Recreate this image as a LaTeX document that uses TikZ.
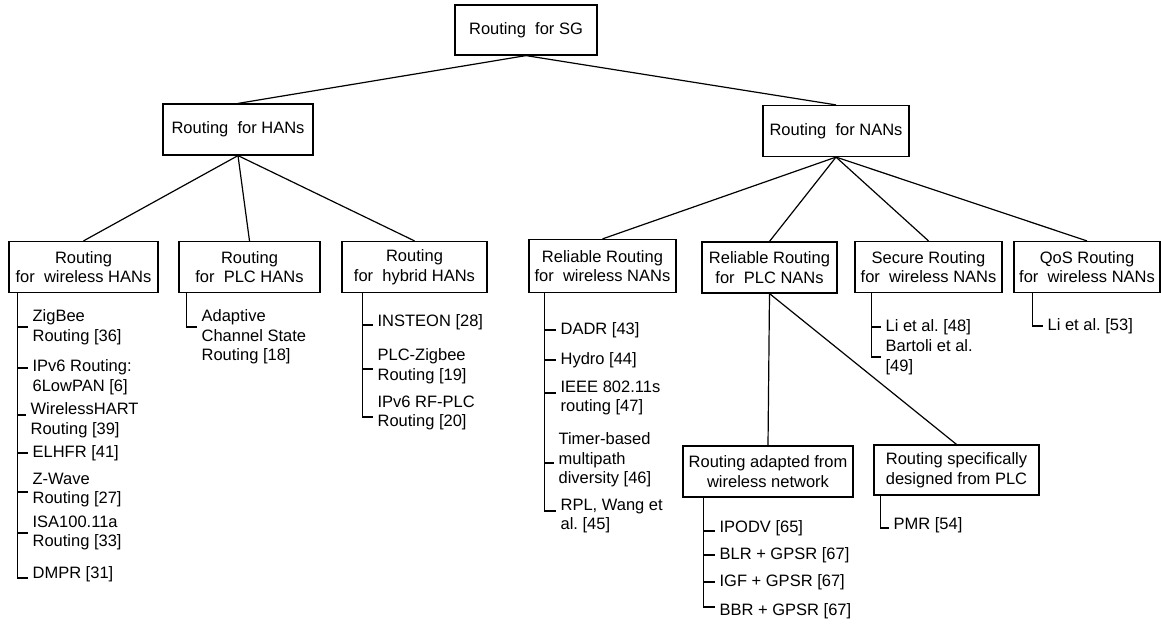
\documentclass[tikz,border=0pt]{standalone}
\usepackage{fontspec}
\setmainfont{Liberation Sans}
\usepackage{tikz}
\usetikzlibrary{positioning}

\newcommand{\treefont}{\fontsize{16.5}{19.5}\selectfont\frenchspacing}

\begin{document}
\begin{tikzpicture}[x=1pt, y=-1pt, line width=1.2pt,
    box/.style={draw, align=center, inner sep=0pt, minimum height=51pt, font=\treefont},
    leaf/.style={anchor=west, align=left, inner xsep=4pt, inner ysep=0pt, font=\treefont}]
    \useasboundingbox (0,0) rectangle (1161,624);

    % Root and first level
    \node[box, minimum width=142pt, minimum height=50pt] (sg) at (526,30) {Routing~ for SG};
    \node[box, minimum width=150pt] (hans) at (238,129.5) {Routing~ for HANs};
    \node[box, minimum width=146pt] (nans) at (836,131) {Routing~ for NANs};

    % Second level
    \node[box, minimum width=149pt] (whan) at (83.5,267) {Routing\\for~ wireless HANs};
    \node[box, minimum width=141pt] (phan) at (249.5,267) {Routing\\for~ PLC HANs};
    \node[box, minimum width=145pt] (hhan) at (414.5,267) {Routing\\for~ hybrid HANs};
    \node[box, minimum width=147pt, minimum height=53pt] (wnan) at (602.5,266) {Reliable Routing\\for~ wireless NANs};
    \node[box, minimum width=135pt] (pnan) at (769.5,267.5) {Reliable Routing\\for~ PLC NANs};
    \node[box, minimum width=147pt] (snan) at (928.5,267) {Secure Routing\\for~ wireless NANs};
    \node[box, minimum width=146pt] (qnan) at (1087,267) {QoS Routing\\for~ wireless NANs};

    % Third level under PLC NANs
    \node[box, minimum width=170pt] (adap) at (768,471.5) {Routing adapted from\\wireless network};
    \node[box, minimum width=165pt, minimum height=50pt] (spec) at (956.5,470) {Routing specifically\\designed from PLC};

    % Tree connectors
    \draw (sg.south) -- (hans.north);
    \draw (sg.south) -- (nans.north);
    \foreach \c in {whan,phan,hhan} \draw (hans.south) -- (\c.north);
    \foreach \c in {wnan,pnan,snan,qnan} \draw (nans.south) -- (\c.north);
    \draw (pnan.south) -- (adap.north);
    \draw (pnan.south) -- (spec.north);

    % Wireless HANs
    \node[leaf] (z1) at (28,327) {ZigBee\\Routing [36]};
    \node[leaf] (z2) at (28,377) {IPv6 Routing:\\6LowPAN [6]};
    \node[leaf] (z3) at (26,420) {WirelessHART\\Routing [39]};
    \node[leaf] (z4) at (28,453) {ELHFR [41]};
    \node[leaf] (z5) at (28,490) {Z-Wave\\Routing [27]};
    \node[leaf] (z6) at (28,533) {ISA100.11a\\Routing [33]};
    \node[leaf] (z7) at (28,574) {DMPR [31]};
    \foreach \i/\s in {z1/0,z2/9,z3/5,z4/0,z5/-2,z6/0,z7/-4}
        \draw ([xshift=9pt]whan.south west) |- ([yshift=\s pt]\i.west);

    % PLC HANs
    \node[leaf] (p1) at (197,337) {Adaptive\\Channel State\\Routing [18]};
    \draw ([xshift=8pt]phan.south west) |- ([yshift=10pt]p1.west);

    % Hybrid HANs
    \node[leaf] (h1) at (373,322) {INSTEON [28]};
    \node[leaf] (h2) at (373,366) {PLC-Zigbee\\Routing [19]};
    \node[leaf] (h3) at (373,413) {IPv6 RF-PLC\\Routing [20]};
    \foreach \i/\s in {h1/-3,h2/-3,h3/-4}
        \draw ([xshift=21pt]hhan.south west) |- ([yshift=\s pt]\i.west);

    % Reliable wireless NANs
    \node[leaf] (n1) at (556,330) {DADR [43]};
    \node[leaf] (n2) at (556,360) {Hydro [44]};
    \node[leaf] (n3) at (556,398) {IEEE 802.11s\\routing [47]};
    \node[leaf] (n4) at (554,460) {Timer-based\\multipath\\diversity [46]};
    \node[leaf] (n5) at (556,516) {RPL, Wang et\\al. [45]};
    \foreach \i/\s in {n1/0,n2/0,n3/5,n4/-3,n5/5}
        \draw ([xshift=16pt]wnan.south west) |- ([yshift=\s pt]\i.west);

    % Secure and QoS wireless NANs
    \node[leaf] (s1) at (881,327) {Li et al. [48]};
    \node[leaf] (s2) at (881,357) {Bartoli et al.\\{[49]}};
    \foreach \i in {s1,s2}
        \draw ([xshift=17pt]snan.south west) |- (\i.west);
    \node[leaf] (q1) at (1043,326) {Li et al. [53]};
    \draw ([xshift=19pt]qnan.south west) |- (q1.west);

    % Adapted and specific PLC routing
    \node[leaf] (a1) at (715,528) {IPODV [65]};
    \node[leaf] (a2) at (715,555) {BLR + GPSR [67]};
    \node[leaf] (a3) at (715,582) {IGF + GPSR [67]};
    \node[leaf] (a4) at (715,611) {BBR + GPSR [67]};
    \foreach \i/\s in {a1/-3,a2/0,a3/0,a4/4}
        \draw ([xshift=21pt]adap.south west) |- ([yshift=\s pt]\i.west);
    \node[leaf] (r1) at (889,525) {PMR [54]};
    \draw ([xshift=7pt]spec.south west) |- ([yshift=-3pt]r1.west);
\end{tikzpicture}
\end{document}
